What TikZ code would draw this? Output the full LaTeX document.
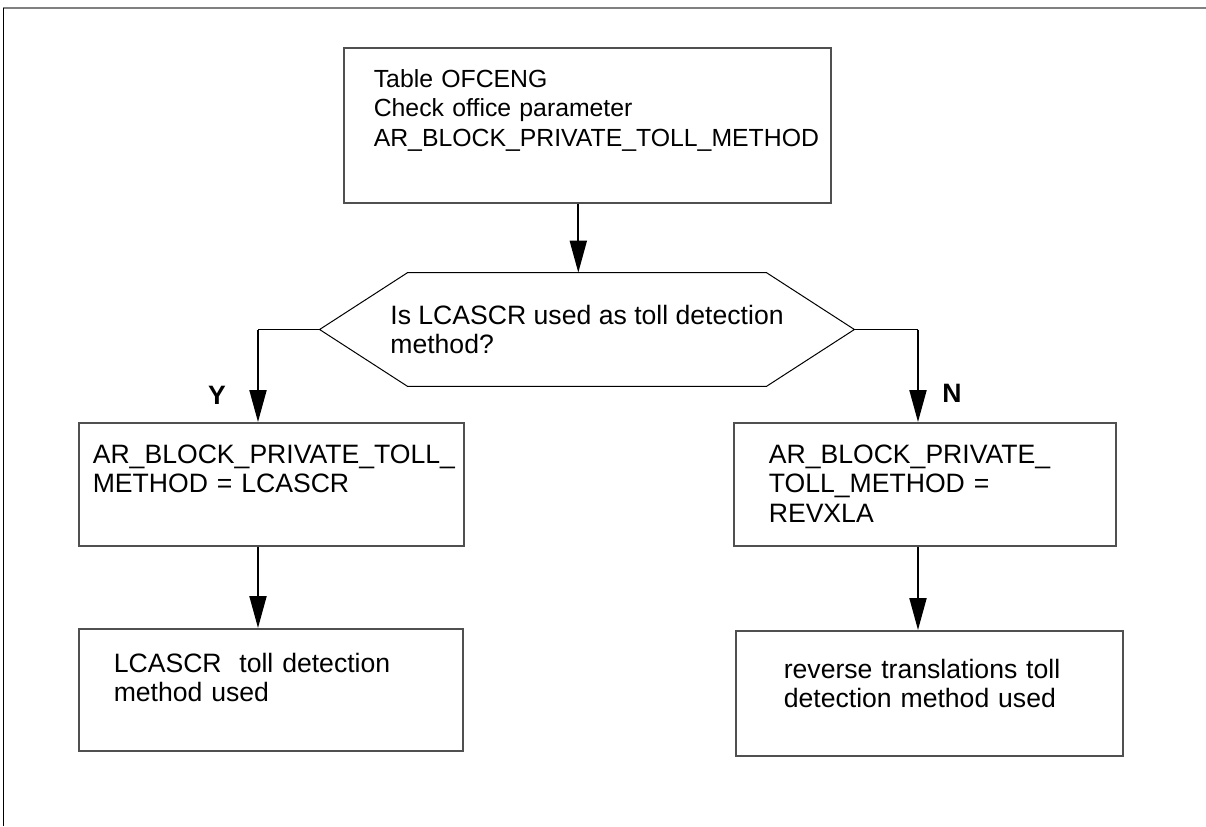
\documentclass[tikz,border=0pt]{standalone}
\usepackage{fontspec}
\setmainfont{Liberation Sans}
\usetikzlibrary{arrows.meta, positioning}

\definecolor{boxgray}{RGB}{80,80,80}

\begin{document}
\begin{tikzpicture}[x=0.5pt, y=-0.5pt, font=\fontsize{13.3}{14.75}\selectfont,
    blk/.style={draw=boxgray, line width=0.8pt, anchor=north west, align=left, inner ysep=0pt},
    dec/.style={align=left, minimum width=267pt, minimum height=56.5pt, inner sep=0pt},
    arrow/.style={-{Triangle[length=16pt, width=8.5pt]}, line width=1pt},
    yn/.style={font=\fontsize{13.3}{14.75}\selectfont\bfseries}]
    \useasboundingbox (0,0) rectangle (1206,826);
    % frame
    \draw[line width=1pt, gray] (3,8) -- (1206,8);
    \draw[line width=0.5pt] (3,8) -- (3,826);

    \node[blk, text width=213.5pt, inner xsep=15pt, text height=19.75pt, text depth=57.75pt,
        font=\fontsize{12.4}{14.75}\selectfont] (chk) at (343,47)
        {Table OFCENG\\Check office parameter\\AR\_BLOCK\_PRIVATE\_TOLL\_METHOD};

    \node[dec] (q) at (587,329.5) {Is LCASCR used as toll detection\\method?};
    \draw[line width=0.5pt] (q.west) -- ([xshift=44pt]q.north west) -- ([xshift=-44pt]q.north east)
        -- (q.east) -- ([xshift=-44pt]q.south east) -- ([xshift=44pt]q.south west) -- cycle;

    \node[blk, text width=178.5pt, inner xsep=7pt, text height=20.25pt, text depth=41.25pt] (lcas) at (78,422)
        {AR\_BLOCK\_PRIVATE\_TOLL\_\\METHOD = LCASCR};
    \node[blk, text width=156pt, inner xsep=17.5pt, text height=20.25pt, text depth=41.25pt] (revx) at (733,422)
        {AR\_BLOCK\_PRIVATE\_\\TOLL\_METHOD =\\REVXLA};
    \node[blk, text width=157pt, inner xsep=17.5pt, text height=21.75pt, text depth=39.25pt] (lcasuse) at (78,628)
        {LCASCR\ \ toll detection\\method used};
    \node[blk, text width=145.5pt, inner xsep=24pt, text height=23.75pt, text depth=38.75pt] (revuse) at (735,630)
        {reverse translations toll\\detection method used};

    % connectors
    \draw[arrow] ([xshift=-4.5pt]chk.south) -- ([xshift=-4.5pt]chk.south |- q.north);
    \coordinate (ky) at (258,329.5);
    \coordinate (kn) at (918,329.5);
    \draw[line width=0.5pt] (q.west) -- (ky);
    \draw[arrow] (ky) -- (ky |- lcas.north);
    \draw[arrow] (ky |- lcas.south) -- (ky |- lcasuse.north);
    \draw[line width=0.5pt] (q.east) -- (kn);
    \draw[arrow] (kn) -- (kn |- revx.north);
    \draw[arrow] (kn |- revx.south) -- (kn |- revuse.north);
    \node[yn] (ylab) at (217,395) {Y};
    \node[yn] (nlab) at (952,393) {N};
\end{tikzpicture}
\end{document}
